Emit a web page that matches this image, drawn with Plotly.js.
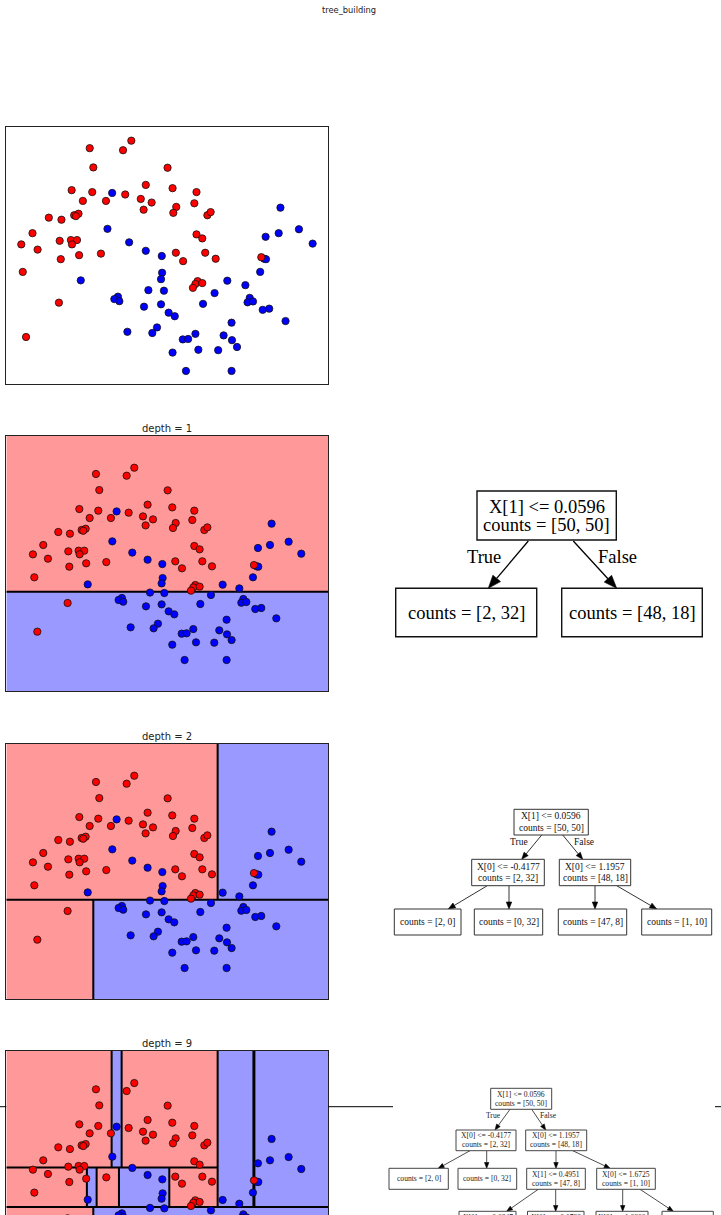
<!DOCTYPE html>
<html><head><meta charset="utf-8">
<script src="https://cdn.plot.ly/plotly-3.0.1.min.js"></script>
<style>html,body{margin:0;padding:0;background:#fff}#chart{width:721px;height:1215px}</style>
</head><body><div id="chart"></div>
<script>
// ---------------- data ----------------
const redX = [-0.383, 0.015, 0.114, -0.340, 0.547, -0.599, -0.353, -0.465, -0.189, 0.041, 0.287, 0.607, 0.893, 0.227, 0.357, 0.261, 0.651, 0.616, 0.867, 1.023, 1.062, -0.872, -0.721, -0.569, -0.517, -0.548, -1.067, -1.201, -1.006, -0.742, -0.608, -0.535, -0.595, -0.729, -0.510, -0.249, 0.893, 0.962, 0.646, 0.733, 0.997, 1.122, -1.183, 0.906, 0.880, 0.962, 0.850, 1.667, -0.751, -1.144];
const redY = [1.356, 1.337, 1.425, 1.179, 1.176, 0.970, 0.952, 0.871, 0.871, 0.930, 1.018, 0.988, 0.952, 0.889, 0.856, 0.790, 0.816, 0.761, 0.849, 0.739, 0.768, 0.717, 0.698, 0.739, 0.753, 0.731, 0.574, 0.471, 0.423, 0.504, 0.511, 0.511, 0.471, 0.335, 0.372, 0.386, 0.563, 0.526, 0.394, 0.317, 0.394, 0.339, 0.218, 0.133, 0.107, 0.115, 0.071, 0.353, -0.065, -0.381];
const blueX = [-0.115, -0.171, 0.088, 0.287, 0.478, 0.482, 0.469, -0.490, 0.318, 0.504, -0.046, -0.089, -0.029, 0.266, 0.469, 0.560, 0.633, 0.971, 1.109, 1.261, 1.477, 1.529, 1.503, 1.568, 1.684, 1.762, 1.957, 1.312, 1.217, 1.317, 1.377, 1.152, 0.915, 0.880, 0.729, 0.793, 0.607, 0.421, 0.365, 0.067, 0.767, 1.312, 1.896, 1.875, 2.117, 2.281, 1.719, 1.702, 1.723, 1.654];
const blueY = [0.944, 0.614, 0.490, 0.412, 0.364, 0.210, 0.151, 0.140, 0.050, 0.045, -0.010, -0.032, -0.051, -0.102, -0.080, -0.157, -0.190, -0.076, 0.023, 0.137, 0.096, -0.021, -0.062, -0.054, -0.131, -0.120, -0.234, -0.249, -0.366, -0.410, -0.473, -0.502, -0.498, -0.352, -0.403, -0.399, -0.524, -0.293, -0.344, -0.333, -0.693, -0.693, 0.809, 0.574, 0.610, 0.478, 0.541, 0.339, 0.335, 0.218];

// split thresholds read from the trees / partitions
const thrRoot = 0.0596, thrLeft = -0.4177, thrRight = 1.1957, thrMid = 0.4951, thrFar = 1.6725;
const depthTitles = ["depth = 1", "depth = 2", "depth = 9"];

// tree structures (left child = True branch, leaf value = class: 0 red, 1 blue)
const leaf = c => ({c});
const node = (f, t, l, r) => ({f, t, l, r});
const tree1 = node(1, thrRoot, leaf(1), leaf(0));
const tree2 = node(1, thrRoot, node(0, thrLeft, leaf(0), leaf(1)), node(0, thrRight, leaf(0), leaf(1)));
const tree9 = node(1, thrRoot,
  node(0, thrLeft, leaf(0), leaf(1)),
  node(0, thrRight,
    node(1, thrMid,
      node(0, -0.0847, node(0, -0.5010, leaf(0), node(0, -0.3745, leaf(1), leaf(0))), node(0, 0.5684, leaf(1), leaf(0))),
      node(0, -0.1799, leaf(0), node(0, -0.0501, leaf(1), leaf(0)))),
    node(0, thrFar, node(0, 1.6600, leaf(1), node(1, 0.2855, leaf(1), leaf(0))), leaf(1))));

// ---------------- layout helpers ----------------
const W = 721, H = 1215;
const px = x => x / W, py = y => 1 - y / H;
const meshX = [-1.5466, 2.6316], meshY = [-1.0344, 1.7777];
const rangeX1 = [-1.380, 2.468], rangeY1 = [-0.816, 1.548];
const xDom = [px(6.3), px(328.3)];
const yDoms = [[py(384.3), py(127.3)], [py(691), py(435.7)], [py(999), py(743.7)], [0, py(1051)]];
const yBottom4 = meshY[1] - (1215 - 1051) / 90.8;

const regionColor = ['rgb(255,153,153)', 'rgb(153,153,255)'];
const shapes = [], annotations = [], traces = [];

function partition(n, b, rects, lines) {
  if (n.c !== undefined) { rects.push(Object.assign({}, b, {c: n.c})); return; }
  if (n.f === 0) {
    lines.push([n.t, b.y0, n.t, b.y1]);
    partition(n.l, Object.assign({}, b, {x1: n.t}), rects, lines);
    partition(n.r, Object.assign({}, b, {x0: n.t}), rects, lines);
  } else {
    lines.push([b.x0, n.t, b.x1, n.t]);
    partition(n.l, Object.assign({}, b, {y1: n.t}), rects, lines);
    partition(n.r, Object.assign({}, b, {y0: n.t}), rects, lines);
  }
}

[tree1, tree2, tree9].forEach((tr, i) => {
  const k = i + 2, xr = 'x' + k, yr = 'y' + k;
  const rects = [], lines = [];
  partition(tr, {x0: meshX[0], x1: meshX[1], y0: meshY[0], y1: meshY[1]}, rects, lines);
  rects.forEach(r => shapes.push({type: 'rect', xref: xr, yref: yr, x0: r.x0, x1: r.x1, y0: r.y0, y1: r.y1,
    fillcolor: regionColor[r.c], line: {width: 0}, layer: 'below'}));
  lines.forEach(l => shapes.push({type: 'line', xref: xr, yref: yr, x0: l[0], y0: l[1], x1: l[2], y1: l[3],
    line: {color: '#000', width: 2}, layer: 'below'}));
});

for (let k = 1; k <= 4; k++) {
  const xa = k === 1 ? 'x' : 'x' + k, ya = k === 1 ? 'y' : 'y' + k;
  traces.push({type: 'scatter', mode: 'markers', x: blueX, y: blueY, xaxis: xa, yaxis: ya, hoverinfo: 'skip',
    marker: {size: 7.3, color: '#0000ff', line: {color: '#111', width: 0.8}}, showlegend: false});
  traces.push({type: 'scatter', mode: 'markers', x: redX, y: redY, xaxis: xa, yaxis: ya, hoverinfo: 'skip',
    marker: {size: 7.3, color: '#ff0000', line: {color: '#111', width: 0.8}}, showlegend: false});
}

// titles
annotations.push({xref: 'paper', yref: 'paper', x: px(348.8), y: py(10), text: 'tree_building', showarrow: false,
  xanchor: 'center', yanchor: 'middle', font: {family: 'DejaVu Sans', size: 8.3, color: '#222'}});
[428, 736, 1043.7].forEach((yy, i) => annotations.push({xref: 'paper', yref: 'paper', x: px(167.3), y: py(yy),
  text: depthTitles[i], showarrow: false, xanchor: 'center', yanchor: 'middle',
  font: {family: 'DejaVu Sans', size: 10, color: '#222'}}));

// stray horizontal rule visible around the last row
[[0, 6.3], [328.3, 393], [715, 721]].forEach(s => shapes.push({type: 'line', xref: 'paper', yref: 'paper',
  x0: px(s[0]), x1: px(s[1]), y0: py(1106.7), y1: py(1106.7), line: {color: '#000', width: 1}}));

// ---------------- tree diagrams ----------------
const LE = '&lt;=';
const treeDiagrams = [
  { font: 18.5, lw: 1.4, lc: '#111', tc: '#000', ah: [13, 5], ew: 1.3,
    boxes: [
      {b: [477, 616.3, 491, 540], t: [['X[1] ' + LE + ' 0.0596', 507.5], ['counts = [50, 50]', 525.5]]},
      {b: [395.7, 536.7, 588.3, 636.7], t: [['counts = [2, 32]', 612.5]]},
      {b: [561.7, 702.3, 588.3, 636.7], t: [['counts = [48, 18]', 612.5]]}],
    edges: [[528.3, 541, 488.3, 588.3], [573.3, 541, 616.7, 588.3]],
    labels: [['True', 484.3, 557.3], ['False', 617.3, 557.3]] },
  { font: 9.5, lw: 1, lc: '#333', tc: '#111', ah: [7, 2.7], ew: 0.8,
    boxes: [
      {b: [514, 588.3, 809.3, 835], t: [['X[1] ' + LE + ' 0.0596', 816.4], ['counts = [50, 50]', 827.6]]},
      {b: [471.7, 544.3, 859.3, 885.7], t: [['X[0] ' + LE + ' -0.4177', 866.7], ['counts = [2, 32]', 877.9]]},
      {b: [559.3, 630.7, 859.3, 885.7], t: [['X[0] ' + LE + ' 1.1957', 866.7], ['counts = [48, 18]', 877.9]]},
      {b: [394.3, 461, 909, 935], t: [['counts = [2, 0]', 922]]},
      {b: [474.3, 542.7, 909, 935], t: [['counts = [0, 32]', 922]]},
      {b: [558.3, 626.7, 909, 935], t: [['counts = [47, 8]', 922]]},
      {b: [641.7, 711.7, 909, 935], t: [['counts = [1, 10]', 922]]}],
    edges: [[541.7, 835, 521.7, 859.3], [562.7, 835, 582.7, 859.3], [487.3, 885.7, 448.3, 909],
            [509, 885.7, 509, 909], [595, 885.7, 595, 909], [616.7, 885.7, 656.7, 909]],
    labels: [['True', 519.3, 842.3], ['False', 583.7, 842.3]] },
  { font: 7.6, lw: 1, lc: '#444', tc: '#222', ah: [5.8, 2.2], ew: 0.7,
    boxes: [
      {b: [490.7, 551.7, 1088.3, 1109.3], t: [['X[1] ' + LE + ' 0.0596', 1094.6], ['counts = [50, 50]', 1103.6]]},
      {b: [456, 516, 1130, 1150.7], t: [['X[0] ' + LE + ' -0.4177', 1135.9], ['counts = [2, 32]', 1144.9]]},
      {b: [525.7, 586.7, 1130, 1150.7], t: [['X[0] ' + LE + ' 1.1957', 1135.9], ['counts = [48, 18]', 1144.9]]},
      {b: [389, 448.3, 1168.3, 1189.3], t: [['counts = [2, 0]', 1178.8]]},
      {b: [458, 516.7, 1168.3, 1189.3], t: [['counts = [0, 32]', 1178.8]]},
      {b: [526.7, 585.3, 1168.3, 1189.3], t: [['X[1] ' + LE + ' 0.4951', 1174.3], ['counts = [47, 8]', 1183.3]]},
      {b: [596.7, 655.3, 1168.3, 1189.3], t: [['X[0] ' + LE + ' 1.6725', 1174.3], ['counts = [1, 10]', 1183.3]]},
      {b: [459, 516, 1211.3, 1240], t: [['X[0] ' + LE + ' -0.0847', 1217.3]]},
      {b: [527.5, 584, 1211.3, 1240], t: [['X[0] ' + LE + ' -0.1799', 1217.3]]},
      {b: [596, 648, 1211.3, 1240], t: [['X[0] ' + LE + ' 1.6600', 1217.3]]},
      {b: [662, 713.3, 1211.3, 1240], t: []}],
    edges: [[510, 1109.3, 495, 1130], [531.7, 1109.3, 545.7, 1130], [470, 1150.7, 438.3, 1168.3],
            [486.7, 1150.7, 486.7, 1168.3], [556, 1150.7, 556, 1168.3], [572.7, 1150.7, 610, 1168.3],
            [538.3, 1189.3, 506.7, 1211.3], [555.7, 1189.3, 555.7, 1211.3], [622.7, 1189.3, 622.7, 1211.3],
            [640, 1189.3, 673.3, 1211.3]],
    labels: [['True', 493.3, 1115], ['False', 548.3, 1115]] }
];

treeDiagrams.forEach(T => {
  T.edges.forEach(e => {
    const [sx, sy, tx, ty] = e;
    const dx = tx - sx, dy = ty - sy, len = Math.hypot(dx, dy);
    const ux = dx / len, uy = dy / len;
    const bx = tx - ux * T.ah[0], by = ty - uy * T.ah[0];
    shapes.push({type: 'line', xref: 'paper', yref: 'paper', x0: px(sx), y0: py(sy), x1: px(bx), y1: py(by),
      line: {color: '#000', width: T.ew}});
    const p1 = [bx - uy * T.ah[1], by + ux * T.ah[1]], p2 = [bx + uy * T.ah[1], by - ux * T.ah[1]];
    shapes.push({type: 'path', xref: 'paper', yref: 'paper', fillcolor: '#000', line: {color: '#000', width: 0.6},
      path: `M ${px(tx)} ${py(ty)} L ${px(p1[0])} ${py(p1[1])} L ${px(p2[0])} ${py(p2[1])} Z`});
  });
  T.boxes.forEach(B => {
    shapes.push({type: 'rect', xref: 'paper', yref: 'paper', x0: px(B.b[0]), x1: px(B.b[1]), y0: py(B.b[3]), y1: py(B.b[2]),
      fillcolor: '#fff', line: {color: T.lc, width: T.lw}});
    const cx = (B.b[0] + B.b[1]) / 2;
    B.t.forEach(t => annotations.push({xref: 'paper', yref: 'paper', x: px(cx), y: py(t[1]), text: t[0], showarrow: false,
      xanchor: 'center', yanchor: 'middle', font: {family: 'Liberation Serif', size: T.font, color: T.tc}}));
  });
  T.labels.forEach(l => annotations.push({xref: 'paper', yref: 'paper', x: px(l[1]), y: py(l[2]), text: l[0], showarrow: false,
    xanchor: 'center', yanchor: 'middle', font: {family: 'Liberation Serif', size: T.font, color: T.tc}}));
});

// ---------------- axes ----------------
function ax(extra) {
  return Object.assign({showticklabels: false, ticks: '', showgrid: false, zeroline: false, showline: true,
    mirror: true, linecolor: '#222', linewidth: 1, fixedrange: true}, extra);
}
const layout = {
  width: W, height: H, margin: {l: 0, r: 0, t: 0, b: 0}, paper_bgcolor: '#fff', plot_bgcolor: '#fff',
  showlegend: false, shapes: shapes, annotations: annotations,
  xaxis: ax({domain: xDom, range: rangeX1, anchor: 'y'}),
  yaxis: ax({domain: yDoms[0], range: rangeY1, anchor: 'x'}),
  xaxis2: ax({domain: xDom, range: meshX, anchor: 'y2'}),
  yaxis2: ax({domain: yDoms[1], range: meshY, anchor: 'x2'}),
  xaxis3: ax({domain: xDom, range: meshX, anchor: 'y3'}),
  yaxis3: ax({domain: yDoms[2], range: meshY, anchor: 'x3'}),
  xaxis4: ax({domain: xDom, range: meshX, anchor: 'y4', side: 'top', mirror: false}),
  yaxis4: ax({domain: yDoms[3], range: [yBottom4, meshY[1]], anchor: 'x4'})
};
Plotly.newPlot('chart', traces, layout, {staticPlot: true, displayModeBar: false});
</script>
</body></html>
